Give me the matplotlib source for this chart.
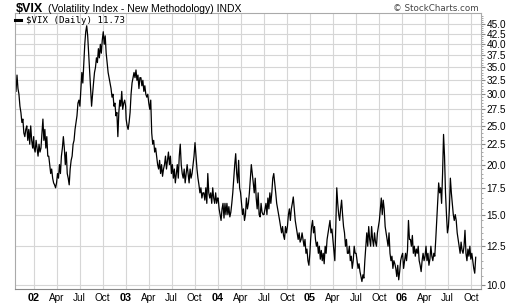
import matplotlib
matplotlib.use('Agg')
import matplotlib.pyplot as plt
from matplotlib.ticker import FixedLocator, NullFormatter, FormatStrFormatter
import numpy as np
import pandas as pd

# VIX closes, roughly every 4 days, grouped by year
vix_2001 = [30.5, 33.5, 31,
            30, 28, 27, 25.5, 26, 24, 23.5, 24.5,
            25, 23, 24.5, 22.5, 25, 23, 22, 23.5]
vix_2002 = [22, 21.5, 23, 22, 21, 22.5, 21.5, 22,
            24, 26, 23, 24.5, 22, 23.5, 21,
            21, 20, 19, 19.5, 18.5, 18, 17.8, 17.5,
            18, 19, 18.5, 20, 19, 21, 22, 23.5,
            22, 20, 21.5, 19, 18.5, 17.8, 19.5, 20.5,
            21, 22.5, 23, 24.5, 25.5, 26.5, 28.5, 29,
            28, 31, 34, 32, 36, 40, 43, 44.5,
            42, 38, 34, 31, 28, 30, 32, 34,
            35, 37, 36, 39, 37, 40, 38, 41,
            43, 40, 42, 38, 36, 34, 33, 32,
            31, 29.5, 30, 28, 28.5, 26.5, 27, 23.5,
            27, 29, 28, 30.5, 27.5, 28.5, 29, 28]
vix_2003 = [26, 25, 24.5, 25.5, 27, 30, 32, 33,
            34, 33, 34.5, 32.5, 33.5, 31, 33,
            33, 31.5, 32.5, 30.5, 31.5, 30, 29.5, 30,
            28.5, 27.5, 29, 24, 22.5, 23, 21.5, 22,
            21, 20, 19.5, 20.5, 19, 20, 18.7, 19.5,
            20, 21, 19.5, 20.5, 21.5, 20, 21, 19,
            20, 18.5, 19.5, 18, 19, 20, 18.5, 21,
            22.5, 20, 19, 18.5, 19.5, 18, 19, 20,
            19, 18, 19.5, 18.5, 19, 20, 21, 22.7,
            21, 19.5, 18.5, 17.8, 17, 17.5, 16.5, 17,
            17, 16.3, 17.5, 16, 19, 17, 16.5,
            17, 16, 17.5, 16.5, 16, 17, 16, 16.5]
vix_2004 = [16.5, 15.5, 15, 14.5, 15.5, 16, 14.7, 16,
            15, 16, 15, 15.7, 14.8, 15.2, 16,
            17, 18.5, 20, 21.3, 19, 18, 20.5, 17.5,
            17, 16, 15, 15.5, 14.5, 15, 16.5, 15.5,
            16, 17, 18.5, 20, 19, 18, 17, 18.5,
            16.5, 15.5, 17, 15, 14.8, 16, 15.2, 15,
            15, 15.5, 16, 15, 16.5, 15.5, 17, 16,
            17, 18.5, 19, 18, 17, 16, 15.5, 15,
            14.5, 14, 13.5, 14, 13.3, 13, 14, 13.5,
            14, 15, 15.5, 14.5, 15.5, 16, 16.6, 15.5,
            14.5, 14, 13.5, 13, 13.5, 12.8, 13, 13.5,
            13, 12.5, 13, 12, 12.3, 11.5, 11.2, 12]
vix_2005 = [13, 14, 14.5, 13.5, 14, 13, 12.5, 12.8,
            12, 12.5, 11.6, 12.2, 11.5, 12, 11.3,
            12.5, 12, 13, 13.5, 14, 14.5, 13.5, 13.8,
            13, 12.2, 11.5, 14, 17.5, 16, 15, 14.5,
            15.5, 16.3, 15, 14, 13.5, 12.5, 13, 12,
            12, 12.5, 11.5, 11.8, 11, 11.5, 12.5, 12,
            12, 11.5, 11, 11.3, 10.8, 10.5, 10.2, 10.6,
            10.4, 11.5, 12.5, 13.5, 12.5, 14, 13, 12.5,
            14, 13, 12.5, 13.5, 12.8, 12.5, 13.5, 14,
            14.5, 15.5, 16.5, 15, 16.3, 15.5, 14, 13.5,
            13, 12.5, 13.5, 12, 11.5, 11.8, 11, 11.5,
            11.3, 11, 10.5, 11.2, 10.3, 10.8, 11.5, 11.8]
vix_2006 = [12, 11, 11.5, 12, 11.5, 12.2, 14.5, 13,
            13, 12.5, 13.3, 12, 12.5, 11.8, 12.3,
            12, 12.5, 11.5, 11.2, 10.8, 11.5, 12, 11.5,
            11.8, 12.5, 11.5, 12, 11.2, 11.6, 12.5, 11.8,
            11.5, 12, 11.8, 13, 14.5, 16, 18, 17,
            17.5, 16, 19, 23.8, 21, 17, 15, 13.5,
            14, 15.5, 18.5, 17, 16, 15, 14.5, 15,
            14.5, 13.5, 13, 12.5, 12, 12.8, 12.2, 12,
            12.5, 13.7, 12, 11.5, 12.3, 11.8, 12.5, 11.6,
            12, 11.5, 11, 10.7, 11.73]

spans = [(vix_2001, '2001-10-22', '2001-12-31'),
         (vix_2002, '2002-01-02', '2002-12-31'),
         (vix_2003, '2003-01-02', '2003-12-31'),
         (vix_2004, '2004-01-02', '2004-12-31'),
         (vix_2005, '2005-01-03', '2005-12-30'),
         (vix_2006, '2006-01-03', '2006-10-20')]

tick_labels = ['02', 'Apr', 'Jul', 'Oct', '03', 'Apr', 'Jul', 'Oct',
               '04', 'Apr', 'Jul', 'Oct', '05', 'Apr', 'Jul', 'Oct',
               '06', 'Apr', 'Jul', 'Oct']
y_ticks = np.arange(10, 45.1, 2.5)

dates = []
vals = []
for v, s, e in spans:
    dates.extend(pd.date_range(s, e, periods=len(v)))
    vals.extend(v)

fig = plt.figure(figsize=(5.2, 3.06), dpi=100)
ax = fig.add_axes([15/520, 17/306, 466/520, 276/306])

ax.plot(dates, vals, color='black', linewidth=0.9, label='$VIX (Daily) 11.73')

ax.set_yscale('log')
ax.set_ylim(9.77, 47.9)
ax.set_xlim(pd.Timestamp('2001-10-18'), pd.Timestamp('2006-11-10'))

ax.yaxis.tick_right()
ax.yaxis.set_major_locator(FixedLocator(y_ticks))
ax.yaxis.set_major_formatter(FormatStrFormatter('%.1f'))
minor = [m for m in np.arange(10, 47.6, 0.5) if abs(m / 2.5 - round(m / 2.5)) > 0.01]
ax.yaxis.set_minor_locator(FixedLocator(minor))
ax.yaxis.set_minor_formatter(NullFormatter())

tick_dates = pd.date_range('2002-01-01', '2006-10-01', freq='QS')
ax.set_xticks(tick_dates)
ax.set_xticklabels(tick_labels)
for lbl in ax.get_xticklabels():
    lbl.set_fontfamily('Liberation Sans')
    lbl.set_fontsize(7.2)
    if lbl.get_text().isdigit():
        lbl.set_fontweight('bold')
        lbl.set_fontsize(7.8)
for lbl in ax.get_yticklabels():
    lbl.set_fontfamily('Liberation Sans')
    lbl.set_fontsize(7.2)

ax.tick_params(axis='x', length=0, pad=3)
ax.tick_params(axis='y', which='major', length=3, pad=1, color='#888888')
ax.tick_params(axis='y', which='minor', length=1.5, color='#999999')

ax.grid(True, which='major', color='#d6d6d6', linewidth=0.8)
ax.set_axisbelow(True)
for side in ['left', 'top', 'right']:
    ax.spines[side].set_color('#aaaaaa')
    ax.spines[side].set_linewidth(0.8)
ax.spines['bottom'].set_color('#888888')
ax.spines['bottom'].set_linewidth(0.8)

leg = ax.legend(loc='upper left', bbox_to_anchor=(0.0, 0.99), frameon=False,
                borderpad=0, borderaxespad=0, handlelength=0.7, handletextpad=0.45,
                prop={'family': 'DejaVu Sans Mono', 'size': 6.6})
leg.get_lines()[0].set_linewidth(2.2)

fig.text(16/520, 294.5/306, '$VIX', fontfamily='Liberation Sans', fontweight='bold',
         fontsize=9, va='baseline', ha='left')
fig.text(48/520, 294.5/306, '(Volatility Index - New Methodology) INDX',
         fontfamily='Liberation Sans', fontsize=7.5, va='baseline', ha='left')
fig.text(479/520, 295/306, '\u00a9 StockCharts.com', fontfamily='DejaVu Sans',
         fontsize=6.3, color='#444444', va='baseline', ha='right')

fig.savefig('out.png', dpi=100)
